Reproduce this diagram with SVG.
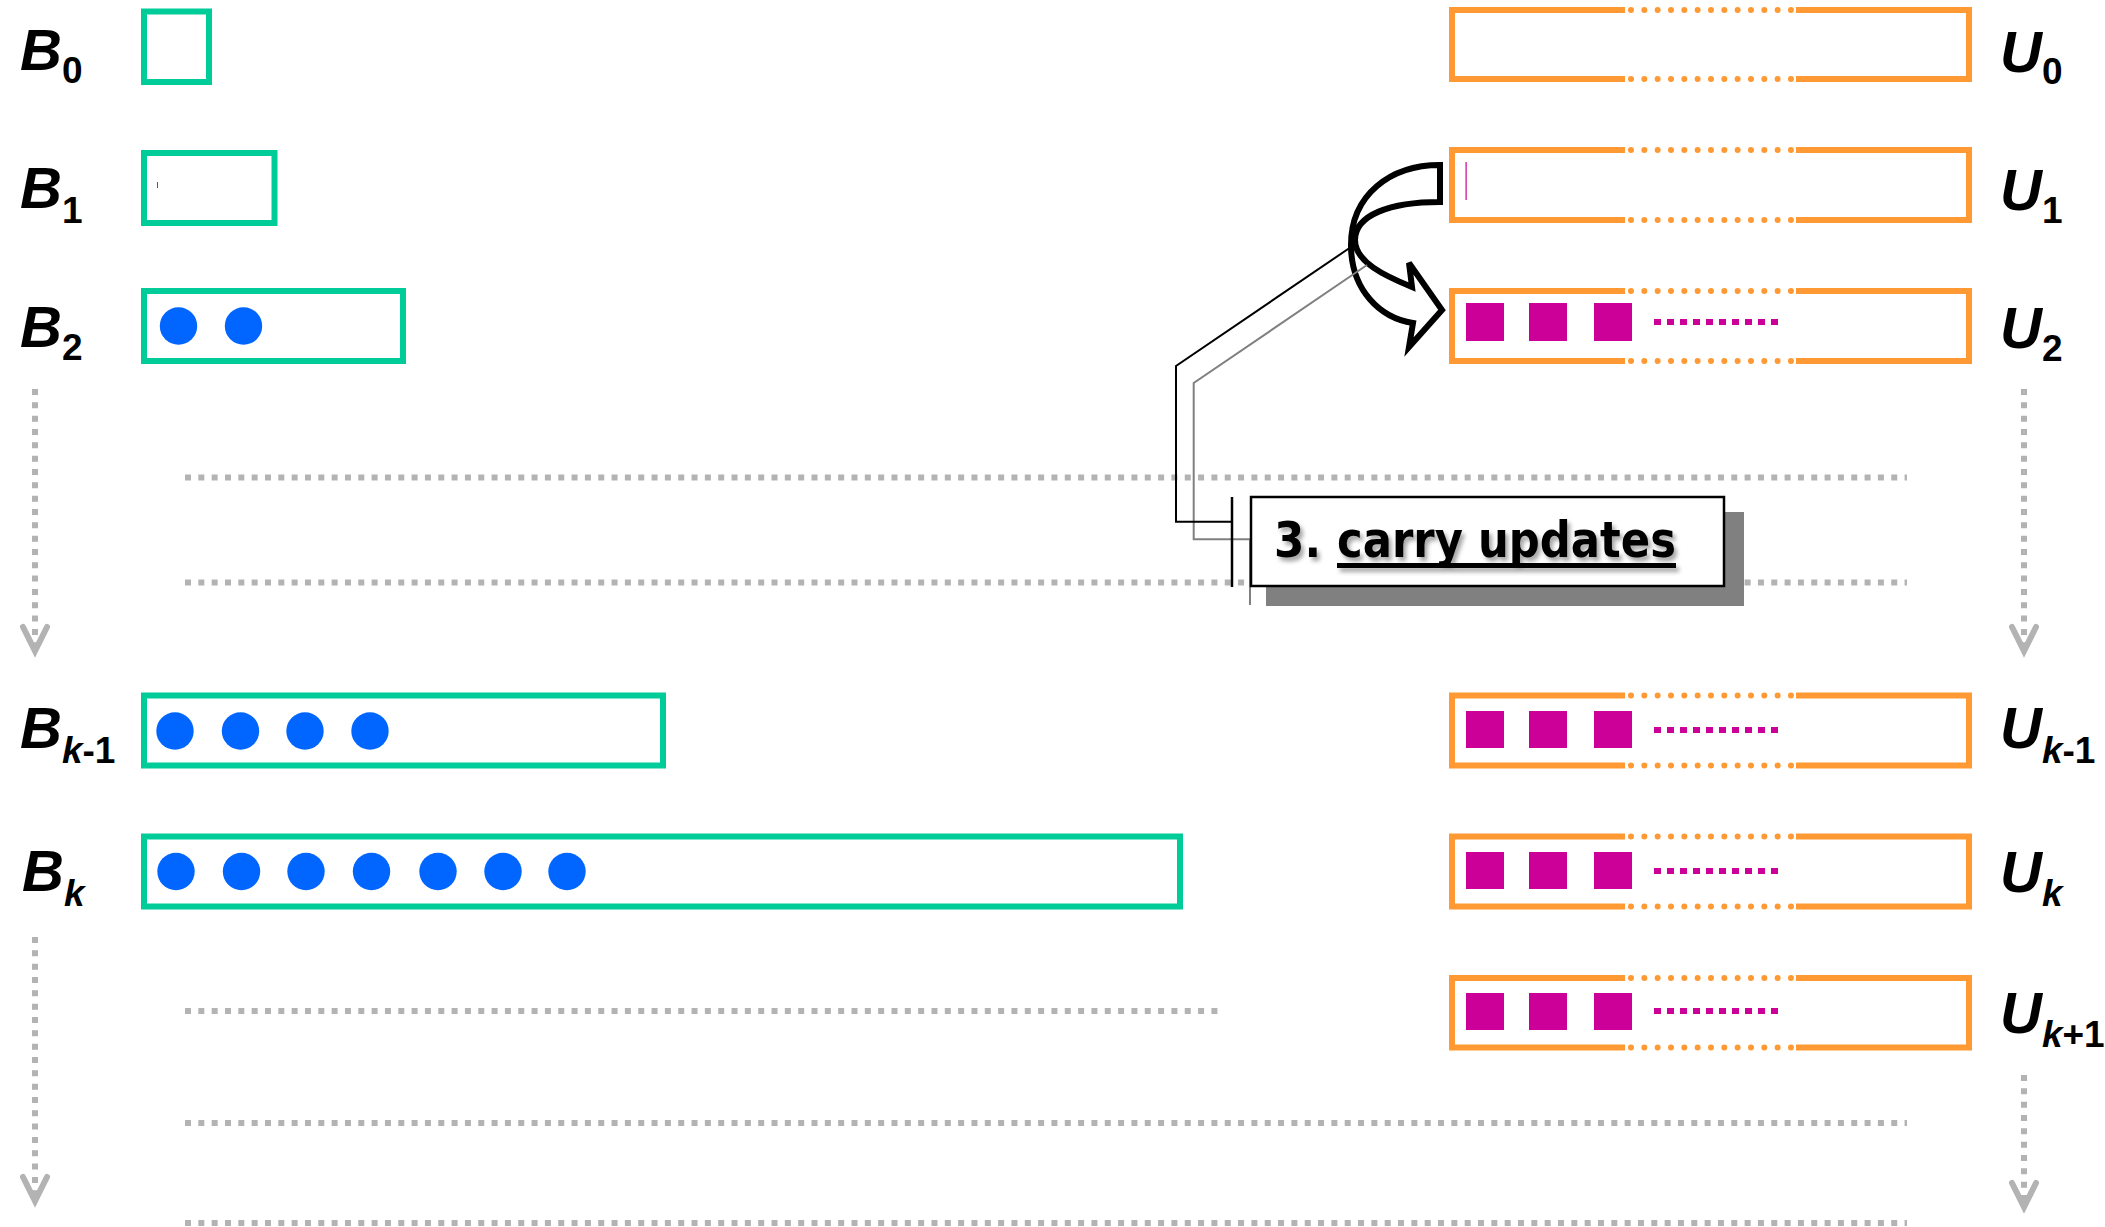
<svg xmlns="http://www.w3.org/2000/svg" width="2105" height="1227" viewBox="0 0 2105 1227">
<style>
.bbox{fill:none;stroke:#00CC99;stroke-width:6}
.ubox{fill:none;stroke:#FF9933;stroke-width:6;stroke-linejoin:miter}
.udot{fill:none;stroke:#FF9933;stroke-width:6;stroke-linecap:round;stroke-dasharray:0 13.33}
.ball{fill:#0066FF}
.sq{fill:#CC0099}
.mdash{fill:none;stroke:#CC0099;stroke-width:6;stroke-dasharray:7 6}
.guide{fill:none;stroke:#B3B3B3;stroke-width:6;stroke-dasharray:6 7.33}
.chev{fill:none;stroke:#B3B3B3;stroke-width:6;stroke-linecap:round;stroke-linejoin:miter}
.lbl{font-family:"Liberation Sans",Arial,sans-serif;font-weight:bold;font-style:italic;font-size:58px;fill:#000}
.sub{font-size:37px;font-style:normal}
.subk{font-size:37px;font-style:italic}
.ctext{font-family:"DejaVu Sans",sans-serif;font-weight:bold;font-size:49px;fill:#000}
</style>
<defs>
<filter id="tsh" x="-10%" y="-30%" width="130%" height="170%">
<feGaussianBlur in="SourceAlpha" stdDeviation="2"/>
<feOffset dx="3" dy="4" result="b"/>
<feFlood flood-color="#000" flood-opacity="0.35"/>
<feComposite in2="b" operator="in"/>
<feMerge><feMergeNode/><feMergeNode in="SourceGraphic"/></feMerge>
</filter>
</defs>
<rect x="0" y="0" width="2105" height="1227" fill="#fff"/>

<g id="guides">
<path class="guide" d="M185,477.5 H1907 M185,582.5 H1907 M185,1011 H1219 M185,1123 H1907 M185,1223 H1907"/>
<path class="guide" d="M35,389 V648 M2024,389 V648 M35,937 V1198 M2024,1075 V1204"/>
<path class="chev" d="M23,627 L35,651 L47,627 M2012,627 L2024,651 L2036,627 M23,1177 L35,1201 L47,1177 M2012,1183 L2024,1207 L2036,1183"/>
</g>

<g id="B0">
<rect class="bbox" x="144" y="11.5" width="65" height="70.5"/>
<text class="lbl" x="20" y="70">B<tspan class="sub" dy="13">0</tspan></text>
</g>
<g id="B1">
<rect class="bbox" x="144" y="153" width="130.5" height="70"/>
<rect x="157" y="182" width="1" height="6" fill="#0066FF"/>
<text class="lbl" x="20" y="208">B<tspan class="sub" dy="15">1</tspan></text>
</g>
<g id="B2">
<rect class="bbox" x="144" y="291" width="259" height="70"/>
<circle class="ball" cx="178.5" cy="326" r="18.7"/>
<circle class="ball" cx="243.5" cy="326" r="18.7"/>
<text class="lbl" x="20" y="347">B<tspan class="sub" dy="13">2</tspan></text>
</g>
<g id="Bk-1">
<rect class="bbox" x="144" y="695.5" width="519" height="70"/>
<circle class="ball" cx="175" cy="731" r="18.7"/>
<circle class="ball" cx="240.5" cy="731" r="18.7"/>
<circle class="ball" cx="305" cy="731" r="18.7"/>
<circle class="ball" cx="370" cy="731" r="18.7"/>
<text class="lbl" x="20" y="748">B<tspan class="subk" dy="15">k</tspan><tspan class="sub">-1</tspan></text>
</g>
<g id="Bk">
<rect class="bbox" x="144" y="836.5" width="1036" height="70"/>
<circle class="ball" cx="176" cy="871.5" r="18.7"/>
<circle class="ball" cx="241.5" cy="871.5" r="18.7"/>
<circle class="ball" cx="306" cy="871.5" r="18.7"/>
<circle class="ball" cx="371.5" cy="871.5" r="18.7"/>
<circle class="ball" cx="438" cy="871.5" r="18.7"/>
<circle class="ball" cx="503" cy="871.5" r="18.7"/>
<circle class="ball" cx="567" cy="871.5" r="18.7"/>
<text class="lbl" x="22" y="891">B<tspan class="subk" dy="15">k</tspan></text>
</g>

<g id="U0">
<path class="ubox" d="M1625,10 H1452 V79 H1625 M1796,10 H1969 V79 H1796"/>
<path class="udot" d="M1631,10 H1792 M1631,79 H1792"/>
<text class="lbl" x="2000" y="72">U<tspan class="sub" dy="12">0</tspan></text>
</g>
<g id="U1">
<path class="ubox" d="M1625,150 H1452 V220 H1625 M1796,150 H1969 V220 H1796"/>
<path class="udot" d="M1631,150 H1792 M1631,220 H1792"/>
<rect x="1465.5" y="162" width="1.2" height="38" fill="#CC0099"/>
<text class="lbl" x="2000" y="210">U<tspan class="sub" dy="13">1</tspan></text>
</g>
<g id="U2">
<path class="ubox" d="M1625,291 H1452 V361 H1625 M1796,291 H1969 V361 H1796"/>
<path class="udot" d="M1631,291 H1792 M1631,361 H1792"/>
<rect class="sq" x="1466" y="303" width="38" height="38"/>
<rect class="sq" x="1529" y="303" width="38" height="38"/>
<rect class="sq" x="1594" y="303" width="38" height="38"/>
<path class="mdash" d="M1654,322 H1778"/>
<text class="lbl" x="2000" y="348">U<tspan class="sub" dy="13">2</tspan></text>
</g>
<g id="Uk-1">
<path class="ubox" d="M1625,695.5 H1452 V765.5 H1625 M1796,695.5 H1969 V765.5 H1796"/>
<path class="udot" d="M1631,695.5 H1792 M1631,765.5 H1792"/>
<rect class="sq" x="1466" y="711" width="38" height="37"/>
<rect class="sq" x="1529" y="711" width="38" height="37"/>
<rect class="sq" x="1594" y="711" width="38" height="37"/>
<path class="mdash" d="M1654,730 H1778"/>
<text class="lbl" x="2000" y="748">U<tspan class="subk" dy="15">k</tspan><tspan class="sub">-1</tspan></text>
</g>
<g id="Uk">
<path class="ubox" d="M1625,836.5 H1452 V906.5 H1625 M1796,836.5 H1969 V906.5 H1796"/>
<path class="udot" d="M1631,836.5 H1792 M1631,906.5 H1792"/>
<rect class="sq" x="1466" y="852" width="38" height="37"/>
<rect class="sq" x="1529" y="852" width="38" height="37"/>
<rect class="sq" x="1594" y="852" width="38" height="37"/>
<path class="mdash" d="M1654,871 H1778"/>
<text class="lbl" x="2000" y="892">U<tspan class="subk" dy="14">k</tspan></text>
</g>
<g id="Uk+1">
<path class="ubox" d="M1625,978 H1452 V1047.5 H1625 M1796,978 H1969 V1047.5 H1796"/>
<path class="udot" d="M1631,978 H1792 M1631,1047.5 H1792"/>
<rect class="sq" x="1466" y="993" width="38" height="37"/>
<rect class="sq" x="1529" y="993" width="38" height="37"/>
<rect class="sq" x="1594" y="993" width="38" height="37"/>
<path class="mdash" d="M1654,1011 H1778"/>
<text class="lbl" x="2000" y="1033">U<tspan class="subk" dy="14">k</tspan><tspan class="sub">+1</tspan></text>
</g>

<g id="carry-arrow">
<path d="M1440,165 C1390,165 1351,195 1351,245 C1351,290 1380,318 1413,323 L1409,347 L1442,310 L1409,263 L1412,287 C1385,276 1355,262 1355,240 C1355,215 1390,202 1440,202 Z" fill="#fff" stroke="#000" stroke-width="6" stroke-linejoin="miter"/>
</g>

<g id="connectors">
<polyline points="1250,605 1250,539.3 1193.7,539.3 1193.7,383 1367,265" fill="none" stroke="#808080" stroke-width="2"/>
<polyline points="1232,521.7 1176,521.7 1176,366 1351,247" fill="none" stroke="#000" stroke-width="2"/>
<line x1="1232" y1="497" x2="1232" y2="587" stroke="#000" stroke-width="2.5"/>
</g>

<g id="callout">
<rect x="1266" y="512" width="478" height="94" fill="#808080"/>
<rect x="1251" y="497" width="473" height="89" fill="#fff" stroke="#000" stroke-width="2.5"/>
<g filter="url(#tsh)">
<text class="ctext" x="1274" y="557" textLength="47" lengthAdjust="spacingAndGlyphs">3.</text>
<text class="ctext" x="1337" y="557" textLength="339" lengthAdjust="spacingAndGlyphs">carry updates</text>
<rect x="1337" y="563" width="339" height="5" fill="#000"/>
</g>
</g>
</svg>
